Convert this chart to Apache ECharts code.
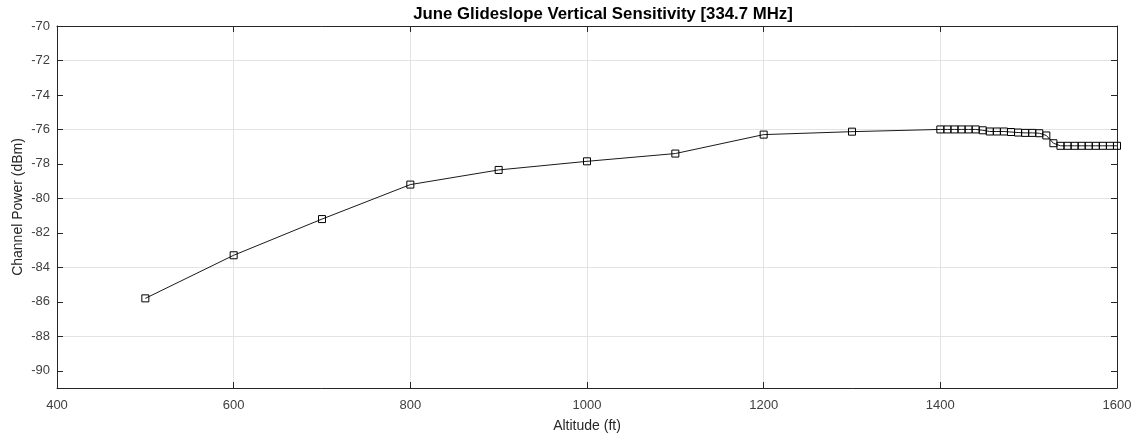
<!DOCTYPE html>
<html>
<head>
<meta charset="utf-8">
<script src="https://cdn.jsdelivr.net/npm/echarts@6/dist/echarts.min.js"></script>
<style>
html,body{margin:0;padding:0;background:#fff;}
#chart{width:1144px;height:440px;}
</style>
</head>
<body>
<div id="chart"></div>
<script>
const altitudes = [500, 600, 700, 800, 900, 1000, 1100, 1200, 1300,
  1400, 1408, 1416, 1424, 1432, 1440, 1448,
  1456, 1464, 1472, 1480, 1488, 1496, 1504, 1512,
  1520, 1528,
  1536, 1544, 1552, 1560, 1568, 1576, 1584, 1592, 1600];
const powers = [-85.8, -83.3, -81.2, -79.2, -78.35, -77.85, -77.4, -76.3, -76.13,
  -76.0, -76.0, -76.0, -76.0, -76.0, -76.0, -76.05,
  -76.12, -76.12, -76.12, -76.15, -76.18, -76.2, -76.2, -76.22,
  -76.35, -76.8,
  -76.95, -76.95, -76.95, -76.95, -76.95, -76.95, -76.95, -76.95, -76.95];
const yTicks = [-90, -88, -86, -84, -82, -80, -78, -76, -74, -72, -70];
const xTicks = [400, 600, 800, 1000, 1200, 1400, 1600];

const font = 'Liberation Sans, Arial, sans-serif';
const axisCol = '#262626';
const gridCol = '#e3e3e3';

const chart = echarts.init(document.getElementById('chart'), null, {renderer: 'canvas'});
const xBase = {
  type: 'value', min: 400, max: 1600, interval: 200,
  axisLine: {show: true, onZero: false, lineStyle: {color: axisCol, width: 1}},
  axisTick: {show: true, inside: true, length: 6, lineStyle: {color: axisCol}},
};
const yBase = {
  type: 'value', min: -91, max: -70, interval: 1,
  axisLine: {show: true, onZero: false, lineStyle: {color: axisCol, width: 1}},
  axisTick: {show: true, inside: true, length: 6, customValues: yTicks, lineStyle: {color: axisCol}},
};
chart.setOption({
  animation: false,
  backgroundColor: '#fff',
  title: {
    text: 'June Glideslope Vertical Sensitivity [334.7 MHz]',
    left: 598, top: 1, textAlign: 'center',
    textStyle: {fontFamily: font, fontSize: 16.8, fontWeight: 'bold', color: '#000'}
  },
  grid: {left: 57, right: 27, top: 26, bottom: 52, containLabel: false, outerBoundsMode: 'none'},
  xAxis: [
    Object.assign({}, xBase, {
      position: 'bottom',
      name: 'Altitude (ft)', nameLocation: 'middle', nameGap: 31, nameMoveOverlap: false,
      nameTextStyle: {fontFamily: font, fontSize: 14, color: '#262626'},
      axisLabel: {fontFamily: font, fontSize: 13, color: '#404040', margin: 11,
        customValues: xTicks, formatter: v => String(v)},
      splitLine: {show: true, lineStyle: {color: gridCol, width: 1}}
    }),
    Object.assign({}, xBase, {
      position: 'top',
      axisLabel: {show: false},
      splitLine: {show: false}
    })
  ],
  yAxis: [
    Object.assign({}, yBase, {
      position: 'left',
      name: 'Channel Power (dBm)', nameLocation: 'middle', nameGap: 32, nameMoveOverlap: false,
      nameTextStyle: {fontFamily: font, fontSize: 14, color: '#262626'},
      axisLabel: {fontFamily: font, fontSize: 13, color: '#404040', margin: 7,
        customValues: yTicks, formatter: v => String(v)},
      splitLine: {show: true, lineStyle: {color: ['rgba(0,0,0,0)', gridCol], width: 1}}
    }),
    Object.assign({}, yBase, {
      position: 'right',
      axisLabel: {show: false},
      splitLine: {show: false}
    })
  ],
  series: [{
    type: 'line',
    xAxisIndex: 0, yAxisIndex: 0,
    data: altitudes.map((a, i) => [a, powers[i]]),
    lineStyle: {color: '#1a1a1a', width: 1},
    symbol: 'rect', symbolSize: 7, showAllSymbol: true,
    itemStyle: {color: 'rgba(255,255,255,0)', borderColor: '#000', borderWidth: 1},
    emphasis: {disabled: true}
  }]
});
</script>
</body>
</html>
